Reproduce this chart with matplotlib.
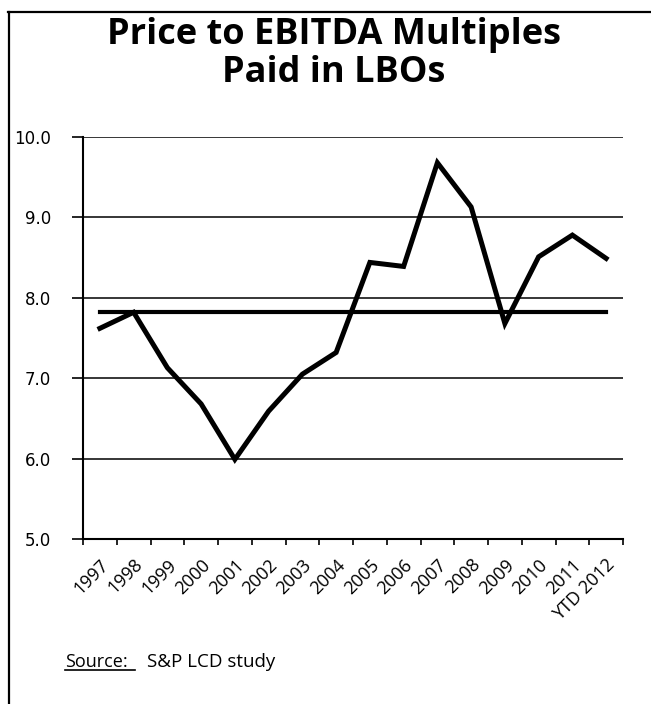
import matplotlib
matplotlib.use('Agg')
import matplotlib.pyplot as plt
from matplotlib.lines import Line2D
import numpy as np

# Chart data

years = ['1997', '1998', '1999', '2000', '2001', '2002', '2003', '2004',
         '2005', '2006', '2007', '2008', '2009', '2010', '2011', 'YTD 2012']
multiples = [7.62, 7.82, 7.13, 6.68, 5.99, 6.59, 7.05, 7.32,
             8.44, 8.39, 9.68, 9.13, 7.68, 8.51, 8.78, 8.49]
average = 7.82
yTicks = [5.0, 6.0, 7.0, 8.0, 9.0, 10.0]

W, H = 651, 704

def fx(px):
    return px / W

def fy(py):
    return 1 - py / H

def main():
    fig = plt.figure(figsize=(W / 100, H / 100), dpi=100)
    fig.patch.set_facecolor('white')

    # Frame around the chart (top and left edges visible)
    fig.add_artist(Line2D([fx(8), fx(651)], [fy(12), fy(12)], color='black', lw=1.6))
    fig.add_artist(Line2D([fx(9), fx(9)], [fy(12), fy(704)], color='black', lw=1.6))

    # Title
    fig.text(fx(334), fy(54), 'Price to EBITDA Multiples\nPaid in LBOs', ha='center', va='center',
             multialignment='center', linespacing=1.05,
             fontsize=26, fontweight='bold', family='Open Sans')

    # Axes
    ax = fig.add_axes([fx(83), fy(539), (623 - 83) / W, (539 - 137) / H])
    x = np.arange(len(years))

    ax.plot(x, multiples, color='black', lw=3.6, solid_joinstyle='miter', zorder=3)
    ax.plot([x[0], x[-1]], [average, average], color='black', lw=3.0, zorder=3)

    ax.set_xlim(-0.5, len(years) - 0.5)
    ax.set_ylim(5, 10)

    ax.set_yticks(yTicks)
    ax.set_yticklabels(['%.1f' % v for v in yTicks], family='DejaVu Sans', fontsize=12)
    for v in yTicks[1:]:
        ax.axhline(v, color='black', lw=1.1, zorder=1)

    ax.set_xticks(np.arange(-0.5, len(years), 1.0))
    ax.set_xticklabels([])
    ax.set_xticks(x, minor=True)
    ax.set_xticklabels(years, minor=True, rotation=45, ha='right', va='top',
                       rotation_mode='anchor', family='Open Sans', fontsize=13)
    ax.tick_params(axis='x', which='minor', length=0, pad=12)
    ax.tick_params(axis='x', which='major', length=4, width=1.2, direction='out')
    ax.tick_params(axis='y', length=8, width=1.2, direction='out', pad=15)

    for s in ['top', 'right']:
        ax.spines[s].set_visible(False)
    for s in ['left', 'bottom']:
        ax.spines[s].set_linewidth(1.5)
        ax.spines[s].set_color('black')

    # Source note
    fig.text(fx(65), fy(662), 'Source:', ha='left', va='center', fontsize=13, family='Open Sans')
    fig.add_artist(Line2D([fx(65), fx(135)], [fy(670), fy(670)], color='black', lw=1.2))
    fig.text(fx(147), fy(662), 'S&P LCD study', ha='left', va='center', fontsize=13.5, family='Open Sans')

    fig.savefig('out.png', dpi=100)

if __name__ == '__main__': main()
